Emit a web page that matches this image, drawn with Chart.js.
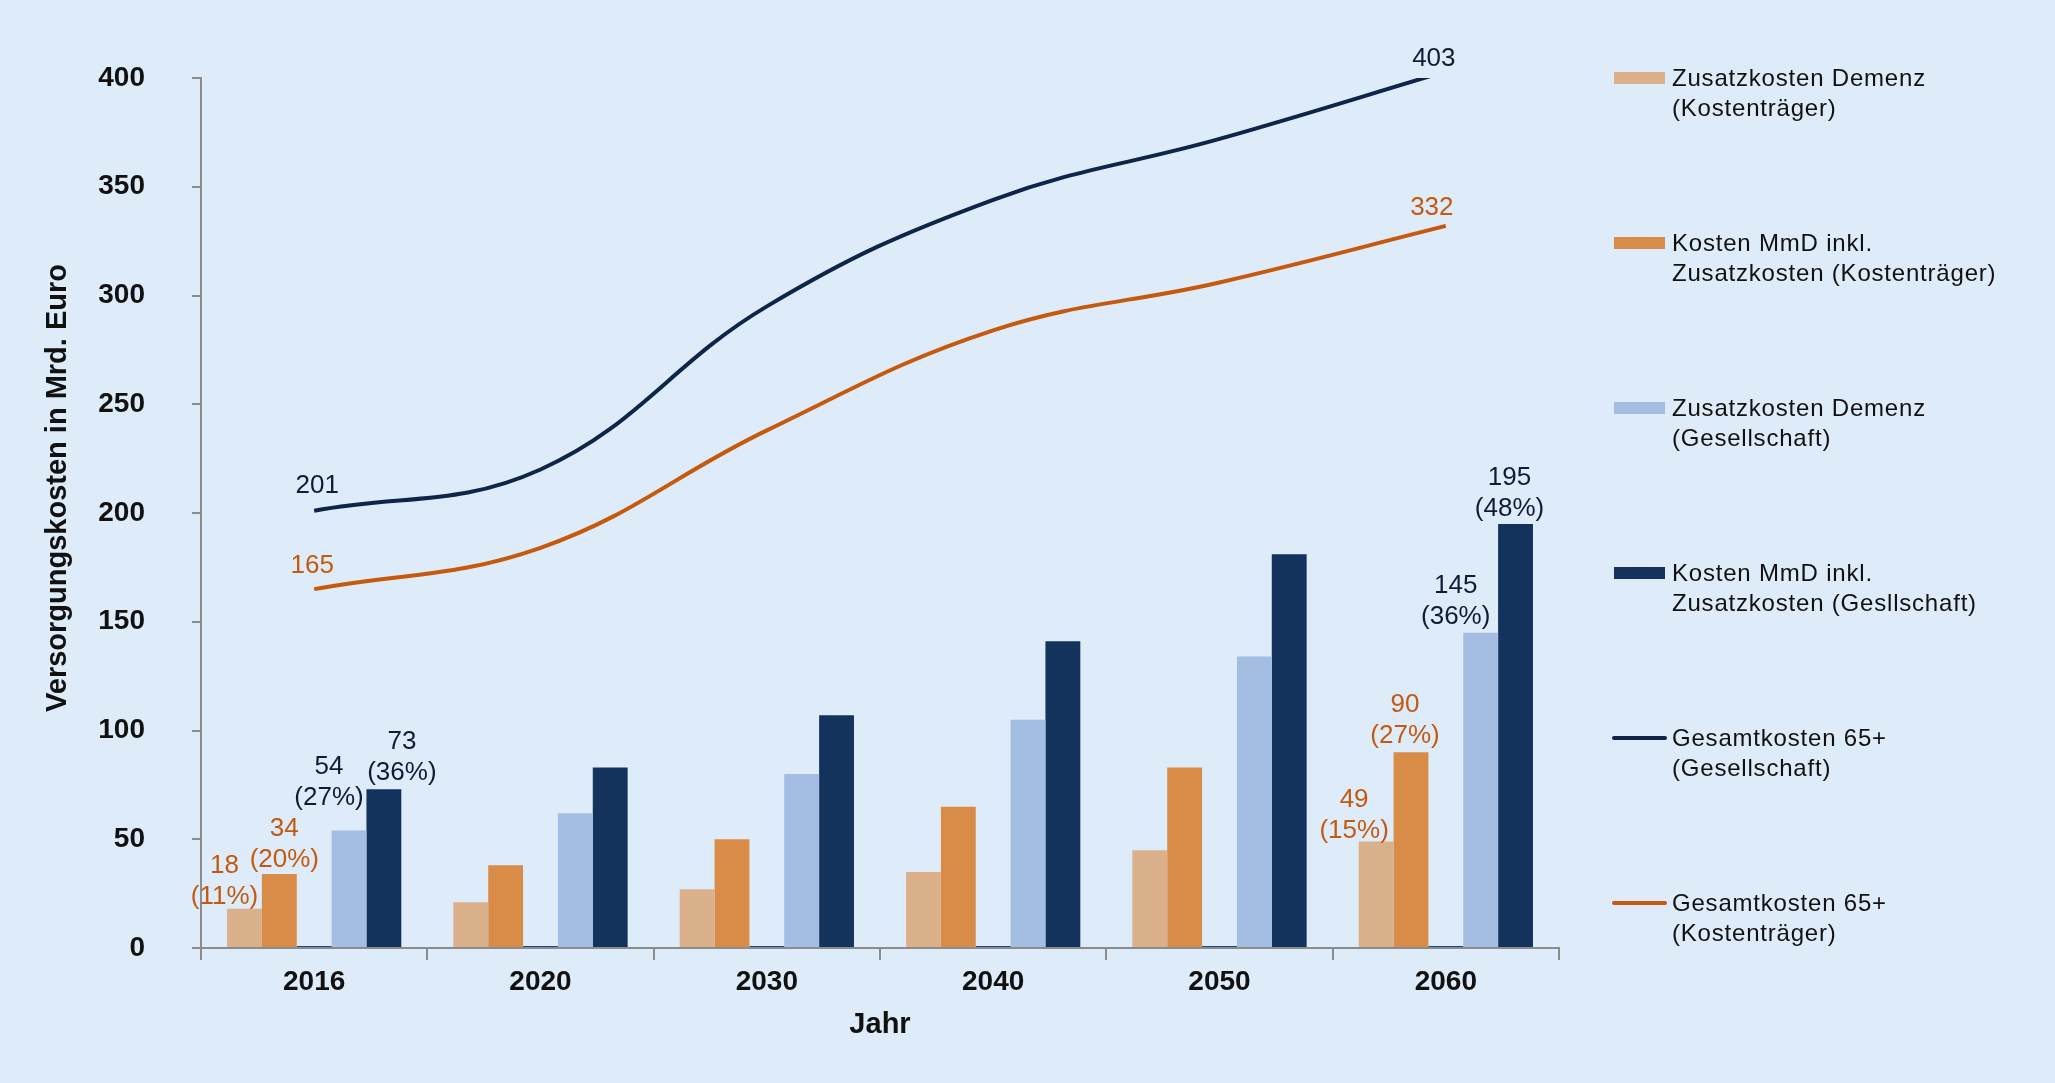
<!DOCTYPE html>
<html lang="de">
<head>
<meta charset="utf-8">
<title>Versorgungskosten 65+</title>
<script src="https://cdn.jsdelivr.net/npm/chart.js@4.4.1/dist/chart.umd.min.js"></script>
<style>
  html, body { margin: 0; padding: 0; background: #deebf8; }
  #wrap { position: relative; width: 2055px; height: 1083px; }
  #legend { position: absolute; left: 1612px; top: 0; font-family: Arial, "Liberation Sans", sans-serif; font-size: 24px; letter-spacing: 0.8px; color: #111; }
  .item { position: absolute; left: 0; width: 440px; height: 60px; }
  .sw { position: absolute; left: 2px; top: 9px; width: 51px; height: 12px; }
  .ln { position: absolute; left: 0; top: 13px; width: 55px; height: 4px; border-radius: 2px; }
  .txt { position: absolute; left: 60px; top: 0; line-height: 30px; white-space: nowrap; }
</style>
</head>
<body>
<div id="wrap">
  <canvas id="chart" width="2055" height="1083"></canvas>
  <div id="legend"></div>
</div>
<script>
// data
const years = ['2016', '2020', '2030', '2040', '2050', '2060'];
const zusatzKT = [18, 21, 27, 35, 45, 49];        // Zusatzkosten Demenz (Kostenträger)
const mmdKT = [34, 38, 50, 65, 83, 90];           // Kosten MmD inkl. Zusatzkosten (Kostenträger)
const emptySlot = [0, 0, 0, 0, 0, 0];             // empty bar slot between the groups
const zusatzGes = [54, 62, 80, 105, 134, 145];    // Zusatzkosten Demenz (Gesellschaft)
const mmdGes = [73, 83, 107, 141, 181, 195];      // Kosten MmD inkl. Zusatzkosten (Gesellschaft)
const gesamtGes = [201, 220, 295, 344, 372, 403]; // Gesamtkosten 65+ (Gesellschaft)
const gesamtKT = [165, 184, 238, 284, 306, 332];  // Gesamtkosten 65+ (Kostenträger)

const zusatzKTLabels = ['18\n(11%)', '', '', '', '', '49\n(15%)'];
const mmdKTLabels = ['34\n(20%)', '', '', '', '', '90\n(27%)'];
const zusatzGesLabels = ['54\n(27%)', '', '', '', '', '145\n(36%)'];
const mmdGesLabels = ['73\n(36%)', '', '', '', '', '195\n(48%)'];
const gesamtGesLabels = ['201', '', '', '', '', '403'];
const gesamtKTLabels = ['165', '', '', '', '', '332'];

const legendNames = [
  'Zusatzkosten Demenz\n(Kostenträger)',
  'Kosten MmD inkl.\nZusatzkosten (Kostenträger)',
  'Zusatzkosten Demenz\n(Gesellschaft)',
  'Kosten MmD inkl.\nZusatzkosten (Gesllschaft)',
  'Gesamtkosten 65+\n(Gesellschaft)',
  'Gesamtkosten 65+\n(Kostenträger)'
];

const FONT = 'Arial, "Liberation Sans", sans-serif';
const C_TAN = '#dbb18b', C_ORANGE = '#d98c48', C_LIGHT = '#a3bee2', C_DARK = '#13325c';
const C_LINE_DARK = '#0e2548', C_LINE_ORANGE = '#c55a0f';
const LBL_ORANGE = '#c45a12', LBL_DARK = '#0f1c38';

// legend on the right
const legendEl = document.getElementById('legend');
const legendKinds = [['sw', C_TAN], ['sw', C_ORANGE], ['sw', C_LIGHT], ['sw', C_DARK], ['ln', C_LINE_DARK], ['ln', C_LINE_ORANGE]];
legendNames.forEach((name, i) => {
  const item = document.createElement('div');
  item.className = 'item';
  item.style.top = (63 + i * 165) + 'px';
  const mark = document.createElement('div');
  mark.className = legendKinds[i][0];
  mark.style.background = legendKinds[i][1];
  const txt = document.createElement('div');
  txt.className = 'txt';
  txt.innerHTML = name.split('\n').join('<br>');
  item.appendChild(mark);
  item.appendChild(txt);
  legendEl.appendChild(item);
});

// value labels above bars / line ends, plus the y axis title
const valueLabels = {
  id: 'valueLabels',
  afterDatasetsDraw(chart) {
    const ctx = chart.ctx;
    ctx.save();
    ctx.font = '26px ' + FONT;
    ctx.textAlign = 'center';
    ctx.textBaseline = 'middle';
    chart.data.datasets.forEach((ds, di) => {
      if (!ds.valueLabels) return;
      const meta = chart.getDatasetMeta(di);
      ds.valueLabels.forEach((txt, i) => {
        if (!txt) return;
        const el = meta.data[i];
        const off = ds.labelOffsets[i];
        const lines = txt.split('\n');
        ctx.fillStyle = ds.labelColor;
        lines.forEach((line, k) => {
          ctx.fillText(line, el.x + off[0], el.y + off[1] - (lines.length - 1 - k) * 31);
        });
      });
    });
    ctx.restore();
  },
  afterDraw(chart) {
    const ctx = chart.ctx;
    ctx.save();
    ctx.translate(58, 488);
    ctx.rotate(-Math.PI / 2);
    ctx.font = 'bold 29px ' + FONT;
    ctx.fillStyle = '#111';
    ctx.textAlign = 'center';
    ctx.textBaseline = 'middle';
    ctx.fillText('Versorgungskosten in Mrd. Euro', 0, 0);
    ctx.restore();
  }
};

new Chart(document.getElementById('chart'), {
  type: 'bar',
  data: {
    labels: years,
    datasets: [
      { type: 'line', data: gesamtGes, borderColor: C_LINE_DARK, borderWidth: 4, tension: 0.4, pointRadius: 0, order: 0,
        valueLabels: gesamtGesLabels, labelColor: LBL_DARK, labelOffsets: [[3, -25], null, null, null, null, [-12, -13]] },
      { type: 'line', data: gesamtKT, borderColor: C_LINE_ORANGE, borderWidth: 4, tension: 0.4, pointRadius: 0, order: 0,
        valueLabels: gesamtKTLabels, labelColor: LBL_ORANGE, labelOffsets: [[-2, -23], null, null, null, null, [-14, -18]] },
      { data: zusatzKT, backgroundColor: C_TAN, order: 1,
        valueLabels: zusatzKTLabels, labelColor: LBL_ORANGE, labelOffsets: [[-20, -12], null, null, null, null, [-22, -11]] },
      { data: mmdKT, backgroundColor: C_ORANGE, order: 1,
        valueLabels: mmdKTLabels, labelColor: LBL_ORANGE, labelOffsets: [[5, -14], null, null, null, null, [-6, -16]] },
      { data: emptySlot, backgroundColor: '#1f4680', minBarLength: 2, order: 1 },
      { data: zusatzGes, backgroundColor: C_LIGHT, order: 1,
        valueLabels: zusatzGesLabels, labelColor: LBL_DARK, labelOffsets: [[-20, -33], null, null, null, null, [-25, -16]] },
      { data: mmdGes, backgroundColor: C_DARK, order: 1,
        valueLabels: mmdGesLabels, labelColor: LBL_DARK, labelOffsets: [[18, -16], null, null, null, null, [-6, -15]] }
    ]
  },
  options: {
    responsive: false,
    devicePixelRatio: 1,
    animation: false,
    categoryPercentage: 0.77,
    barPercentage: 1.0,
    layout: { padding: { left: 0, right: 496, top: 78, bottom: 0 } },
    plugins: { legend: { display: false }, tooltip: { enabled: false } },
    scales: {
      x: {
        grid: { offset: true, drawOnChartArea: false, tickLength: 12, color: '#8c8c8c', lineWidth: 2 },
        border: { color: '#8c8c8c', width: 2 },
        ticks: { color: '#111', font: { family: FONT, size: 28, weight: 'bold' }, padding: 5 },
        title: { display: true, text: 'Jahr', color: '#111', font: { family: FONT, size: 29, weight: 'bold' }, padding: { top: 0, bottom: 41 } },
        afterFit(scale) { scale.height = 135; }
      },
      y: {
        min: 0, max: 400,
        grid: { drawOnChartArea: false, tickLength: 9, color: '#8c8c8c', lineWidth: 2 },
        border: { color: '#8c8c8c', width: 2 },
        ticks: { stepSize: 50, color: '#111', font: { family: FONT, size: 28, weight: 'bold' }, padding: 47 },
        afterFit(scale) { scale.width = 201; }
      }
    }
  },
  plugins: [valueLabels]
});
</script>
</body>
</html>
